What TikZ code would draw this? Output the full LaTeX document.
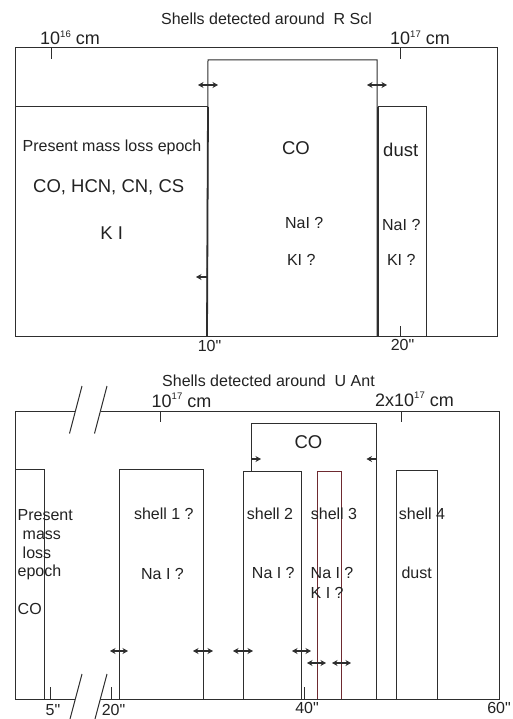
\documentclass[tikz,border=0pt]{standalone}
\usepackage{fontspec}
\setmainfont{Liberation Sans}[Ligatures=TeXOff]
\usetikzlibrary{arrows.meta}
\definecolor{lncol}{HTML}{2E2E2E}
\definecolor{txcol}{HTML}{222222}
\definecolor{redcol}{HTML}{6E2A30}
\newcommand{\mysup}[1]{\raisebox{0.42em}{\fontsize{9.5}{9.5}\selectfont #1}}
\begin{document}
\begin{tikzpicture}[x=1pt,y=-1pt,
  ln/.style={draw=lncol,line width=1pt},
  thk/.style={draw=lncol,line width=1.8pt},
  redbox/.style={draw=redcol,line width=1pt},
  dbl/.style={draw=lncol,line width=1.3pt,{Stealth[length=5.5pt,width=6pt]}-{Stealth[length=5.5pt,width=6pt]}},
  sgl/.style={draw=lncol,line width=1.3pt,-{Stealth[length=5.5pt,width=6pt]}},
  lbl/.style={anchor=base,inner sep=0pt,text=txcol,font=\fontsize{16}{19}\selectfont},
  lblw/.style={lbl,anchor=base west},
  big/.style={lbl,font=\fontsize{18.5}{22}\selectfont},
  scalelbl/.style={lbl,anchor=base west,font=\fontsize{18}{20}\selectfont}]
\useasboundingbox[fill=white] (0,0) rectangle (513,719);

% ---------------- top panel: R Scl ----------------
\node[lbl] (ttop) at (266.5,25) {Shells detected around\ \ R Scl};
\node[scalelbl] (s16) at (40,45) {10\mysup{16} cm};
\node[scalelbl] (s17) at (390,45) {10\mysup{17} cm};

\draw[ln] (15,48) rectangle (497,336);
\draw[ln] (51,48) -- (51,59);
\draw[ln] (400,48) -- (400,59);
\draw[ln] (400.5,326) -- (400.5,336);

% CO shell
\draw[ln] (207,336) -- (208,60) -- (377,60) -- (377,336);
% present mass loss box
\draw[ln] (15,107) -- (208,107);
\draw[thk] (208,107) -- (207,336);
% dust box
\draw[thk] (378,107) -- (378,336);
\draw[ln] (378,107) -- (426,107) -- (426,336);

\draw[dbl] (198,85) -- (218,85);
\draw[dbl] (367,85) -- (387,85);
\draw[sgl] (207,277) -- (196,277);

\node[lbl] (pm) at (112,151.5) {Present mass loss epoch};
\node[big] (mol) at (108.7,193) {CO, HCN, CN, CS};
\node[big] (ki) at (111.7,239) {K I};
\node[big] (co1) at (296,155) {CO};
\node[lbl] (na1) at (304.2,228.3) {NaI ?};
\node[lbl] (k1) at (301.3,265) {KI ?};
\node[big] (du1) at (400.7,157) {dust};
\node[lbl] (na2) at (401.3,230) {NaI ?};
\node[lbl] (k2) at (401.3,265) {KI ?};
\node[lbl] (a10) at (209.5,351.5) {10"};
\node[lbl] (a20) at (402.5,350.5) {20"};

% ---------------- bottom panel: U Ant ----------------
\node[lbl] (tbot) at (268.5,386.5) {Shells detected around\ \ U Ant};
\node[scalelbl] (b17) at (151.5,407.5) {10\mysup{17} cm};
\node[scalelbl] (b217) at (375,406.5) {2x10\mysup{17} cm};

\draw[ln] (75,411) -- (15,411) -- (15,699) -- (75,699);
\draw[ln] (101,411) -- (499,411) -- (499,699) -- (100,699);
\draw[ln] (82,386) -- (69.5,433.5);
\draw[ln] (107,386) -- (94.5,433.5);
\draw[ln] (82,674) -- (70,719);
\draw[ln] (107,674) -- (95,719);

\draw[ln] (160,411) -- (160,422);
\draw[ln] (401,411) -- (401,422);
\draw[ln] (50,687) -- (50,699);
\draw[ln] (111,687) -- (111,699);
\draw[ln] (304,687) -- (304,699);

% boxes
\draw[ln] (15,469) -- (44,469) -- (44,699);
\draw[ln] (119,699) -- (119,469) -- (203,469) -- (203,699);
\draw[ln] (243,699) -- (243,471) -- (301,471) -- (301,699);
\draw[ln] (251,471) -- (251,423) -- (376,423) -- (376,699);
\draw[redbox] (317,699) -- (317,471) -- (341,471) -- (341,699);
\draw[ln] (396,699) -- (396,470) -- (437,470) -- (437,699);

\draw[sgl] (251.5,459) -- (261,459);
\draw[sgl] (376,459) -- (366.5,459);

\draw[dbl] (110,651) -- (128,651);
\draw[dbl] (193,651) -- (213,651);
\draw[dbl] (233,651) -- (253,651);
\draw[dbl] (292,651) -- (311,651);
\draw[dbl] (307,663) -- (326,663);
\draw[dbl] (332,663) -- (351,663);

\node[big] (co2) at (308.5,448) {CO};
\node[lblw] (p1) at (17.5,520) {Present};
\node[lblw] (p2) at (22.5,539.5) {mass};
\node[lblw] (p3) at (22.5,558.5) {loss};
\node[lblw] (p4) at (17.5,576.5) {epoch};
\node[lblw] (p5) at (17.5,614) {CO};
\node[lbl] (sh1) at (163.8,519.5) {shell 1 ?};
\node[lbl] (na3) at (162.5,579.5) {Na I ?};
\node[lbl] (sh2) at (270,519) {shell 2};
\node[lbl] (na4) at (273.3,578.5) {Na I ?};
\node[lbl] (sh3) at (334,519) {shell 3};
\node[lblw] (na5) at (310.5,578.5) {Na I ?};
\node[lblw] (k3) at (310.5,598) {K I ?};
\node[lbl] (sh4) at (422,519) {shell 4};
\node[lbl] (du2) at (416.7,578.5) {dust};

\node[lbl] (b5) at (53,715) {5"};
\node[lbl] (b20) at (113.5,715) {20"};
\node[lbl] (b40) at (307,713) {40"};
\node[lbl] (b60) at (499,713) {60"};
\end{tikzpicture}
\end{document}
